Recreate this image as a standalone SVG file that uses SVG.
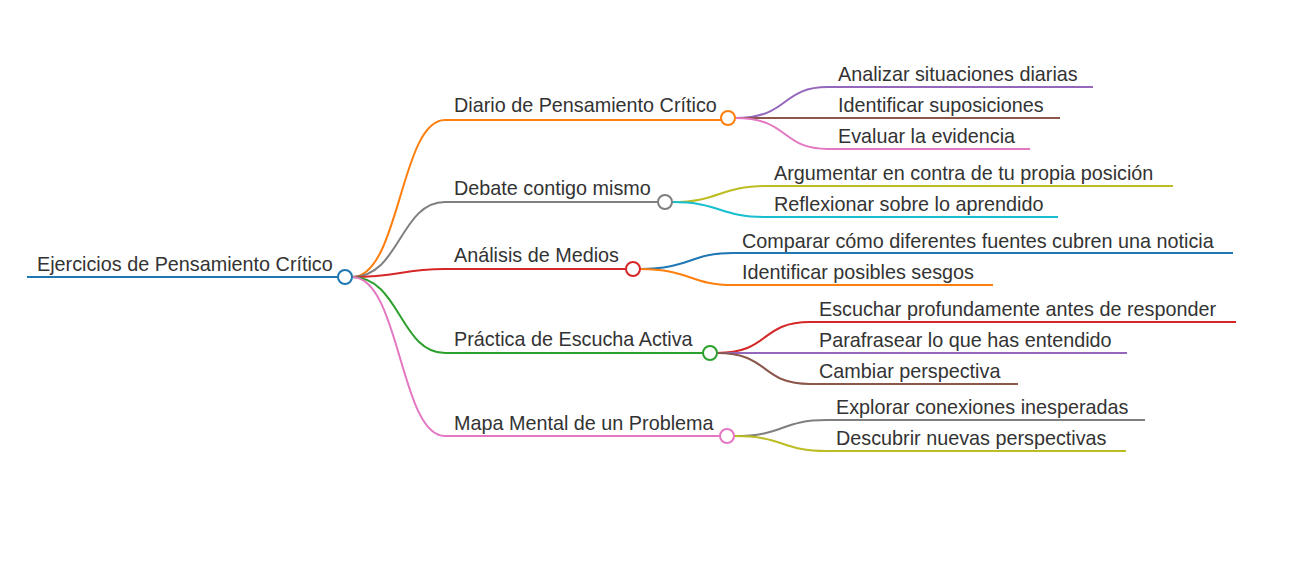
<svg xmlns="http://www.w3.org/2000/svg" width="1298" height="565" viewBox="0 0 1298 565">
<style>
text{font-family:"Liberation Sans",Arial,sans-serif;font-size:19.8px;fill:#333}
path{fill:none;stroke-width:2}
circle{fill:#fff;stroke-width:2}
</style>
<rect width="1298" height="565" fill="#fff"/>
<g id="connectors">
<path d="M27 277H338" stroke="#1f77b4"/>
<path d="M352 277C400 277 400 120 445 120H721" stroke="#ff7f0e"/>
<path d="M352 277C400 277 400 202 445 202H658" stroke="#7f7f7f"/>
<path d="M352 277C400 277 400 269 445 269H626" stroke="#d62728"/>
<path d="M352 277C400 277 400 353 445 353H703" stroke="#2ca02c"/>
<path d="M352 277C400 277 400 436 445 436H720" stroke="#e377c2"/>
<path d="M735 118C790 118 780 87 828 87H1093" stroke="#9467bd"/>
<path d="M735 118H1060" stroke="#8c564b"/>
<path d="M735 118C790 118 780 149 828 149H1030" stroke="#e377c2"/>
<path d="M672 202C720 202 720 186 765 186H1173" stroke="#bcbd22"/>
<path d="M672 202C720 202 720 217 765 217H1058" stroke="#17becf"/>
<path d="M640 269C690 269 690 253 733 253H1233" stroke="#1f77b4"/>
<path d="M640 269C690 269 690 285 733 285H993" stroke="#ff7f0e"/>
<path d="M717 353C770 353 760 322 810 322H1236" stroke="#d62728"/>
<path d="M717 353H1127" stroke="#9467bd"/>
<path d="M717 353C770 353 760 384 810 384H1018" stroke="#8c564b"/>
<path d="M734 436C785 436 780 420 827 420H1145" stroke="#7f7f7f"/>
<path d="M734 436C785 436 780 451 827 451H1126" stroke="#bcbd22"/>
</g>
<g id="root"><text x="37" y="271">Ejercicios de Pensamiento Crítico</text><circle cx="345" cy="277" r="7" stroke="#1f77b4"/></g>
<g id="n1"><text x="454" y="112">Diario de Pensamiento Crítico</text><circle cx="728" cy="118" r="7" stroke="#ff7f0e"/></g>
<g id="n2"><text x="454" y="195">Debate contigo mismo</text><circle cx="665" cy="202" r="7" stroke="#7f7f7f"/></g>
<g id="n3"><text x="454" y="262">Análisis de Medios</text><circle cx="633" cy="269" r="7" stroke="#d62728"/></g>
<g id="n4"><text x="454" y="346">Práctica de Escucha Activa</text><circle cx="710" cy="353" r="7" stroke="#2ca02c"/></g>
<g id="n5"><text x="454" y="430">Mapa Mental de un Problema</text><circle cx="727" cy="436" r="7" stroke="#e377c2"/></g>
<g id="leaves">
<text x="838" y="81">Analizar situaciones diarias</text>
<text x="838" y="112">Identificar suposiciones</text>
<text x="838" y="143">Evaluar la evidencia</text>
<text x="774" y="180">Argumentar en contra de tu propia posición</text>
<text x="774" y="211">Reflexionar sobre lo aprendido</text>
<text x="742" y="248">Comparar cómo diferentes fuentes cubren una noticia</text>
<text x="742" y="279">Identificar posibles sesgos</text>
<text x="819" y="316">Escuchar profundamente antes de responder</text>
<text x="819" y="347">Parafrasear lo que has entendido</text>
<text x="819" y="378">Cambiar perspectiva</text>
<text x="836" y="414">Explorar conexiones inesperadas</text>
<text x="836" y="445">Descubrir nuevas perspectivas</text>
</g>
</svg>
